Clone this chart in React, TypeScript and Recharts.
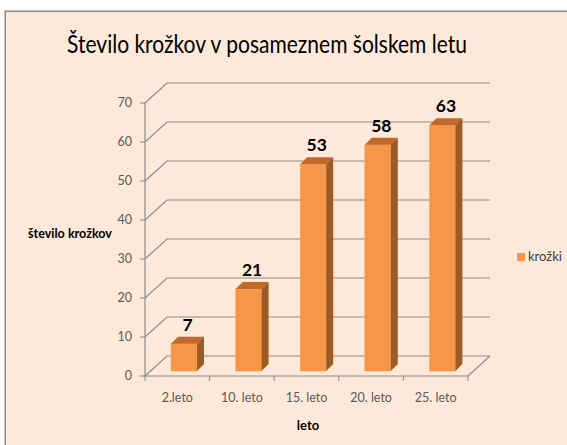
import { Bar, BarChart, CartesianGrid, LabelList, XAxis, YAxis } from "recharts";

const categories = ["2.leto", "10. leto", "15. leto", "20. leto", "25. leto"];
const krozki = [7, 21, 53, 58, 63];
const yTicks = [0, 10, 20, 30, 40, 50, 60, 70];

const data = categories.map((leto, i) => ({ leto, krozki: krozki[i] }));

const FONT = "Lato, 'Open Sans', sans-serif";
const GRID = "#8c8c8c";
const ORANGE = "#F79646";
// depth of the back wall and of the plane the columns stand in
const WALL = { dx: 22, dy: 20 };
const COL = { dx: 7, dy: 5, depth: 7 };

function GridLine(props: any) {
  const { x1, x2, y1, index } = props;
  const bx = x2 + WALL.dx;
  const by = y1 - WALL.dy;
  return (
    <g>
      <polyline
        points={`${x1},${y1} ${x1 + WALL.dx},${by} ${bx},${by}`}
        fill="none"
        stroke={GRID}
        strokeWidth={1.2}
      />
      {index === 0 && <line x1={x2} y1={y1} x2={bx} y2={by} stroke={GRID} strokeWidth={1.2} />}
    </g>
  );
}

function Column(props: any) {
  const { x, y, width, height } = props;
  if (!height) return null;
  const fx = x + COL.dx;
  const fy = y - COL.dy;
  const d = COL.depth;
  return (
    <g>
      <rect x={fx} y={fy} width={width} height={height} fill={ORANGE} stroke="#F4A45E" strokeWidth={0.5} />
      <polygon
        points={`${fx},${fy} ${fx + d},${fy - d} ${fx + width + d},${fy - d} ${fx + width},${fy}`}
        fill="#C0692A"
      />
      <polygon
        points={`${fx + width},${fy} ${fx + width + d},${fy - d} ${fx + width + d},${fy + height - d} ${fx + width},${fy + height}`}
        fill="#9E5A25"
      />
    </g>
  );
}

function ValueLabel(props: any) {
  const { x, y, width, value } = props;
  return (
    <text
      x={x + COL.dx + width / 2 + COL.depth / 2}
      y={y - COL.dy - COL.depth - 6}
      textAnchor="middle"
      fontFamily={FONT}
      fontSize={17.5}
      fontWeight={700}
      fill="#000"
    >
      {value}
    </text>
  );
}

function CategoryTick(props: any) {
  const { x, y, payload, index, width, visibleTicksCount } = props;
  const band = width / visibleTicksCount;
  const left = x - band / 2;
  return (
    <g>
      <line x1={left} y1={y} x2={left} y2={y + 5} stroke={GRID} />
      {index === visibleTicksCount - 1 && (
        <line x1={left + band} y1={y} x2={left + band} y2={y + 5} stroke={GRID} />
      )}
      <text x={x} y={y + 26} textAnchor="middle" fontFamily={FONT} fontSize={12.5} fill="#595959">
        {payload.value}
      </text>
    </g>
  );
}

export default function App() {
  return (
    <div style={{ position: "fixed", left: 0, top: 0, width: 567, height: 445, background: "#fff", overflow: "hidden" }}>
      <div
        style={{
          position: "absolute",
          left: 5,
          top: 11,
          width: 580,
          height: 450,
          background: "#FDE9D9",
          borderLeft: "1.5px solid #8a8a8a",
          borderTop: "1.5px solid #8a8a8a",
          boxShadow: "-1px -1px 1px #c8c8c8",
        }}
      />
      <div style={{ position: "absolute", left: 0, top: 0 }}>
        <BarChart width={567} height={445} data={data} margin={{ top: 103, right: 99, bottom: 39, left: 105 }}>
          <CartesianGrid vertical={false} horizontal={(p: any) => <GridLine key={p.key} {...p} />} />
          <XAxis
            dataKey="leto"
            height={30}
            axisLine={{ stroke: GRID, strokeWidth: 1.2 }}
            tickLine={false}
            tickSize={0}
            tickMargin={0}
            tick={CategoryTick}
            interval={0}
          />
          <YAxis
            width={40}
            domain={[0, 70]}
            ticks={yTicks}
            axisLine={{ stroke: GRID, strokeWidth: 1.2 }}
            tickLine={{ stroke: GRID }}
            tickSize={5}
            tickMargin={8}
            tick={{ fontFamily: FONT, fontSize: 12.5, fill: "#595959" }}
          />
          <Bar dataKey="krozki" name="krožki" barSize={26} shape={Column} isAnimationActive={false}>
            <LabelList dataKey="krozki" content={ValueLabel} />
          </Bar>
        </BarChart>
      </div>
      <svg width={567} height={445} style={{ position: "absolute", left: 0, top: 0, pointerEvents: "none" }}>
        <text x={267} y={53} textAnchor="middle" textLength={400} lengthAdjust="spacingAndGlyphs" fontFamily={FONT} fontSize={25} fill="#000">
          Število krožkov v posameznem šolskem letu
        </text>
        <text x={28} y={238} textLength={84} lengthAdjust="spacingAndGlyphs" fontFamily={FONT} fontSize={13} fontWeight={700} fill="#000">
          število krožkov
        </text>
        <text x={308} y={430} textAnchor="middle" fontFamily={FONT} fontSize={13} fontWeight={700} fill="#000">
          leto
        </text>
        <rect x={517} y={253} width={8} height={8} fill={ORANGE} />
        <text x={528} y={261} fontFamily={FONT} fontSize={13} fill="#404040">
          krožki
        </text>
      </svg>
    </div>
  );
}
